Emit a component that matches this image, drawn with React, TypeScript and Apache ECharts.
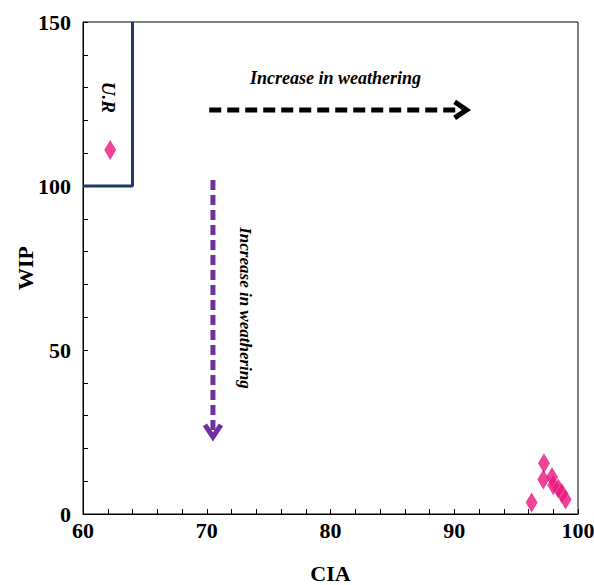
import { useEffect, useRef } from "react";
import * as echarts from "echarts";

// ---- Data ----
const xRange = [60, 100];
const yRange = [0, 150];
const urPoint = [[62.2, 111]];
const samplePoints = [
  [97.25, 15.5],
  [96.25, 3.5],
  [97.2, 10.5],
  [97.9, 11.3],
  [98.0, 8.8],
  [98.4, 7.8],
  [98.7, 6.3],
  [99.0, 4.4],
];
const urBoundary = [
  [60, 100],
  [64, 100],
  [64, 150],
];
// arrows: [x1, y1, x2 (tip), y2 (tip)]
const arrows = [
  [70.2, 123.2, 91.0, 123.2],
  [70.5, 101.8, 70.5, 23.5],
];
const arrowColors = ["#000000", "#7030A0"];
const arrowDash = [
  [12, 6],
  [10, 5],
];
const annoTexts = ["Increase in weathering", "Increase in weathering", "U.R"];
const annoPos = [
  [80.4, 133],
  [73.1, 62.8],
  [62.1, 127],
];
const annoRot = [0, -90, -90];
const annoSize = [18, 17, 19];

const FONT = "'Liberation Serif', 'Times New Roman', serif";

export default function App() {
  const ref = useRef<HTMLDivElement>(null);
  useEffect(() => {
    document.body.style.margin = "0";
    const chart = echarts.init(ref.current!, null, { renderer: "svg" });
    const labelStyle = {
      fontFamily: FONT,
      fontWeight: "bold" as const,
      fontSize: 22,
      color: "#000",
    };
    chart.setOption({
      animation: false,
      backgroundColor: "#fff",
      grid: {
        left: 83,
        right: 16,
        top: 22,
        bottom: 71,
        show: true,
        borderColor: "#000",
        borderWidth: 1,
        containLabel: false,
        outerBoundsMode: "none",
      },
      xAxis: {
        type: "value",
        min: xRange[0],
        max: xRange[1],
        interval: 10,
        name: "CIA",
        nameLocation: "middle",
        nameGap: 48,
        nameTextStyle: labelStyle,
        axisLine: { show: true, lineStyle: { color: "#000", width: 1 } },
        axisTick: { show: true, inside: true, length: 5, lineStyle: { color: "#000" } },
        minorTick: { show: true, splitNumber: 5, length: 5, lineStyle: { color: "#000" } },
        splitLine: { show: false },
        axisLabel: { ...labelStyle, margin: 5 },
      },
      yAxis: {
        type: "value",
        min: yRange[0],
        max: yRange[1],
        interval: 50,
        name: "WIP",
        nameLocation: "middle",
        nameGap: 47,
        nameMoveOverlap: false,
        nameTextStyle: labelStyle,
        axisLine: { show: true, lineStyle: { color: "#000", width: 1 } },
        axisTick: { show: true, inside: true, length: 5, lineStyle: { color: "#000" } },
        minorTick: { show: true, splitNumber: 5, length: 5, lineStyle: { color: "#000" } },
        splitLine: { show: false },
        axisLabel: { ...labelStyle, margin: 12 },
      },
      series: [
        {
          type: "line",
          data: urBoundary,
          showSymbol: false,
          symbol: "none",
          lineStyle: { color: "#1F3864", width: 3 },
          z: 3,
        },
        {
          type: "custom",
          clip: false,
          data: arrows,
          encode: { x: [0, 2], y: [1, 3] },
          renderItem: (params: any, api: any) => {
            const i = params.dataIndex;
            const color = arrowColors[i];
            const p1 = api.coord([api.value(0), api.value(1)]);
            const p2 = api.coord([api.value(2), api.value(3)]);
            const dx = p2[0] - p1[0];
            const dy = p2[1] - p1[1];
            const len = Math.hypot(dx, dy);
            const ux = dx / len;
            const uy = dy / len;
            const nx = -uy;
            const ny = ux;
            const head = 12;
            const half = 8;
            const bx = p2[0] - ux * head;
            const by = p2[1] - uy * head;
            return {
              type: "group",
              children: [
                {
                  type: "line",
                  shape: { x1: p1[0], y1: p1[1], x2: p2[0] - ux * 5, y2: p2[1] - uy * 5 },
                  style: { stroke: color, lineWidth: 5, lineDash: arrowDash[i], fill: null },
                },
                {
                  type: "polyline",
                  shape: {
                    points: [
                      [bx + nx * half, by + ny * half],
                      [p2[0], p2[1]],
                      [bx - nx * half, by - ny * half],
                    ],
                  },
                  style: { stroke: color, lineWidth: 5, fill: null, lineJoin: "miter" },
                },
              ],
            };
          },
          z: 4,
        },
        {
          type: "custom",
          clip: false,
          data: annoPos,
          encode: { x: 0, y: 1 },
          renderItem: (params: any, api: any) => {
            const i = params.dataIndex;
            const p = api.coord([api.value(0), api.value(1)]);
            return {
              type: "text",
              x: p[0],
              y: p[1],
              rotation: (annoRot[i] * Math.PI) / 180,
              style: {
                text: annoTexts[i],
                fontFamily: FONT,
                fontWeight: "bold",
                fontStyle: "italic",
                fontSize: annoSize[i],
                fill: "#000",
                align: "center",
                verticalAlign: "middle",
              },
            };
          },
          z: 5,
        },
        {
          type: "scatter",
          data: urPoint,
          symbol: "diamond",
          symbolSize: [12, 20],
          itemStyle: { color: "#E8157D" },
          z: 6,
        },
        {
          type: "scatter",
          data: samplePoints,
          symbol: "diamond",
          symbolSize: [12, 20],
          itemStyle: { color: "#E8157D" },
          z: 6,
        },
      ],
    });
    return () => chart.dispose();
  }, []);
  return <div ref={ref} style={{ width: 594, height: 585 }} />;
}
